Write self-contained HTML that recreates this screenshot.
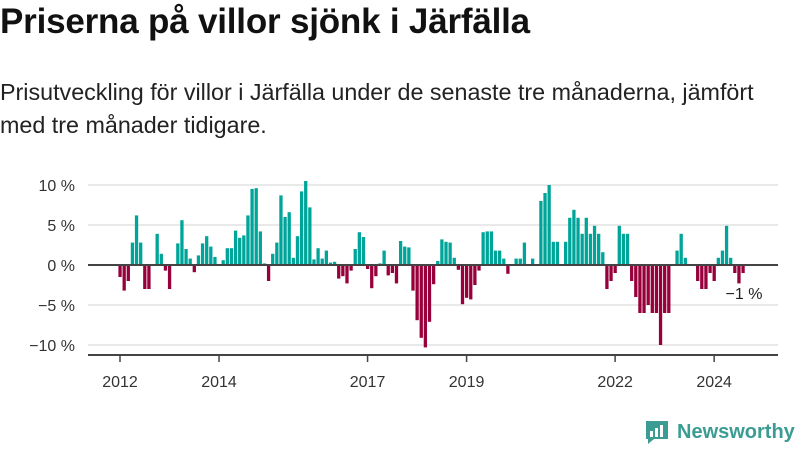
<!DOCTYPE html>
<html><head><meta charset="utf-8"><style>
body{margin:0;width:800px;height:450px;background:#fff;overflow:hidden;font-family:"Liberation Sans","DejaVu Sans",sans-serif;color:#111}
#title{position:absolute;left:0;top:2px;font-size:35px;font-weight:bold;letter-spacing:-0.2px;white-space:nowrap}
#sub{position:absolute;left:0;top:76px;font-size:23.3px;line-height:33px;color:#222;width:798px}
svg{position:absolute;left:0;top:0}
</style></head><body>
<div id="title">Priserna på villor sjönk i Järfälla</div>
<div id="sub">Prisutveckling för villor i Järfälla under de senaste tre månaderna, jämfört med tre månader tidigare.</div>
<svg id="chart" width="800" height="450"></svg>
<script>
const values=[-1.5,-3.2,-2,2.8,6.2,2.8,-3,-3,0,3.9,1.4,-0.7,-3,0,2.7,5.6,2.0,0.8,-0.9,1.2,2.7,3.6,2.3,1.0,0,0.6,2.1,2.1,4.3,3.4,3.7,6.2,9.5,9.6,4.2,0.2,-2,1.4,2.8,8.7,6.0,6.6,0.9,3.6,9.2,10.5,7.2,0.7,2.1,0.8,1.8,0.3,0.4,-1.7,-1.4,-2.3,-0.7,2.0,4.1,3.5,-0.5,-2.9,-1.4,0.2,1.8,-1.3,-1.0,-2.3,3.0,2.3,2.2,-3.2,-6.9,-9.1,-10.3,-7.1,-2.4,0.5,3.2,2.9,2.8,0.9,-0.6,-4.9,-4.1,-4.3,-2.5,-0.7,4.1,4.2,4.2,1.8,1.8,0.8,-1.1,0,0.8,0.8,2.8,0,0.8,0,8.0,9.0,10.0,2.9,2.9,0,2.9,5.9,6.9,5.9,3.9,5.9,3.9,4.9,3.9,1.6,-3.0,-2.0,-1.0,4.9,3.9,3.9,-2.0,-4.0,-6.0,-6.0,-5.0,-6.0,-6.0,-10,-6,-6,0,1.8,3.9,0.9,0,0,-2.0,-3.0,-3.0,-1.0,-2.0,0.9,1.8,4.9,0.9,-1.0,-2.3,-1.0];
const startYear=2012;
const yTicks=[10,5,0,-5,-10];
const yTickLabels=["10 %","5 %","0 %","−5 %","−10 %"];
const xTickYears=[2012,2014,2017,2019,2022,2024];
const lastLabel="−1 %";
const NS="http://www.w3.org/2000/svg";
const svg=document.getElementById('chart');
const y=v=>265-v*8;
const x=i=>120+i*4.126;
function mk(t,a){const e=document.createElementNS(NS,t);for(const k in a)e.setAttribute(k,a[k]);svg.appendChild(e);return e;}
yTicks.forEach((t,k)=>{
 const g=mk('line',{x1:88,x2:778,y1:y(t),y2:y(t),stroke:'#e2e2e2','stroke-width':1.5});
 
 
 const l=mk('text',{x:75,y:y(t)+6,'text-anchor':'end','font-size':16,fill:'#333'});
 l.textContent=yTickLabels[k];
 
 
});
values.forEach((v,i)=>{
 const r=mk('rect',{x:x(i)-1.6,width:3.3,y:Math.min(y(v),y(0)),height:Math.abs(v*8),fill:v>=0?'#00a59a':'#98003c'});
 
 
});
const z=mk('line',{x1:88,x2:778,y1:y(0),y2:y(0),stroke:'#444','stroke-width':2});


const ax=mk('line',{x1:88,x2:778,y1:355,y2:355,stroke:'#444','stroke-width':2});


xTickYears.forEach(yr=>{
 const px=x((yr-startYear)*12);
 const t=mk('line',{x1:px,x2:px,y1:355,y2:362,stroke:'#444','stroke-width':1.5});
 
 
 const l=mk('text',{x:px,y:387,'text-anchor':'middle','font-size':16,fill:'#333'});
 l.textContent=yr;
 
 
});
const lab=mk('text',{x:744,y:299,'text-anchor':'middle','font-size':16,fill:'#222'});
lab.textContent=lastLabel;


</script>
<div style="position:absolute;left:644px;top:419px;display:flex;align-items:center">
<svg width="26" height="26" style="position:static"><path d="M2 2h22v18h-14l-6 5v-5h-2z" fill="#3a9c92"/><rect x="6" y="12" width="3" height="6" fill="#fff"/><rect x="11" y="9" width="3" height="9" fill="#fff"/><rect x="16" y="6" width="3" height="12" fill="#fff"/></svg>
<span style="font-size:20px;color:#3a9c92;margin-left:7px;font-weight:bold">Newsworthy</span></div>
</body></html>
